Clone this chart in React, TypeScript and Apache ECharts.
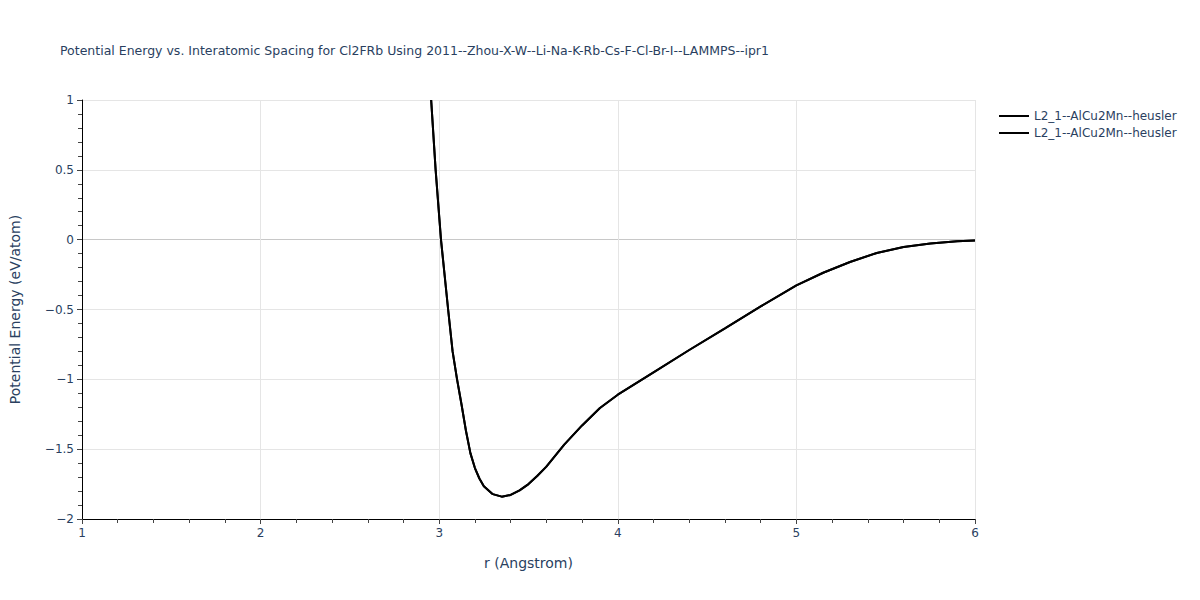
import { useEffect, useRef } from "react";
import * as echarts from "echarts";

// r (Angstrom) and energy (eV/atom)
const rValues = [
  2.955, 2.98, 3.01, 3.05, 3.075, 3.1, 3.125, 3.15, 3.175, 3.2, 3.225, 3.25, 3.3,
  3.35, 3.4, 3.45, 3.5, 3.55, 3.6, 3.7, 3.8, 3.9, 4.0, 4.2, 4.4, 4.6, 4.8, 5.0,
  5.15, 5.3, 5.45, 5.6, 5.75, 5.9, 6.0,
];
const energyValues = [
  1.0, 0.5, 0.0, -0.5, -0.8, -1.0, -1.18, -1.37, -1.53, -1.635, -1.71, -1.765,
  -1.822, -1.84, -1.828, -1.795, -1.75, -1.69, -1.625, -1.467, -1.33, -1.205,
  -1.11, -0.95, -0.79, -0.635, -0.478, -0.327, -0.237, -0.16, -0.095, -0.052,
  -0.027, -0.012, -0.006,
];
const seriesNames = ["L2_1--AlCu2Mn--heusler", "L2_1--AlCu2Mn--heusler "];

const TITLE =
  "Potential Energy vs. Interatomic Spacing for Cl2FRb Using 2011--Zhou-X-W--Li-Na-K-Rb-Cs-F-Cl-Br-I--LAMMPS--ipr1";
const FONT = "'DejaVu Sans', verdana, sans-serif";
const TEXT = "#2a3f5f";

const fmt = (v: number) => (v < 0 ? "\u2212" + String(-v) : String(v));

export default function App() {
  const chartRef = useRef<HTMLDivElement>(null);

  useEffect(() => {
    document.body.style.margin = "0";
    if (!chartRef.current) return;
    const chart = echarts.init(chartRef.current, undefined, { renderer: "svg" });
    const points = rValues.map((r, i) => [r, energyValues[i]]);

    chart.setOption({
      animation: false,
      backgroundColor: "#fff",
      title: {
        text: TITLE,
        left: 55,
        top: 39,
        textStyle: { fontFamily: FONT, fontSize: 12.5, fontWeight: "normal", color: TEXT },
      },
      legend: {
        data: seriesNames,
        orient: "vertical",
        left: 994,
        top: 105,
        itemWidth: 30,
        itemHeight: 2,
        itemGap: 5,
        icon: "rect",
        formatter: (n: string) => n.trim(),
        textStyle: { fontFamily: FONT, fontSize: 12, color: TEXT },
      },
      grid: { left: 80, right: 225, top: 100, bottom: 81 },
      xAxis: {
        type: "value",
        min: 1,
        max: 6,
        interval: 1,
        name: "r (Angstrom)",
        nameLocation: "middle",
        nameGap: 37,
        nameTextStyle: { fontFamily: FONT, fontSize: 14, color: TEXT },
        axisLine: { onZero: false, lineStyle: { color: "#000", width: 1 } },
        axisTick: { show: true, length: 5, lineStyle: { color: "#444" } },
        minorTick: { show: true, splitNumber: 5, length: 4, lineStyle: { color: "#444" } },
        axisLabel: { fontFamily: FONT, fontSize: 12, color: TEXT, margin: 8 },
        splitLine: { show: true, lineStyle: { color: "#e5e5e5", width: 1 } },
      },
      yAxis: {
        type: "value",
        min: -2,
        max: 1,
        interval: 0.5,
        name: "Potential Energy (eV/atom)",
        nameLocation: "middle",
        nameGap: 60,
        nameTextStyle: { fontFamily: FONT, fontSize: 14, color: TEXT },
        axisLine: { show: true, onZero: false, lineStyle: { color: "#000", width: 1 } },
        axisTick: { show: true, length: 5, lineStyle: { color: "#444" } },
        minorTick: { show: true, splitNumber: 5, length: 4, lineStyle: { color: "#444" } },
        axisLabel: { fontFamily: FONT, fontSize: 12, color: TEXT, margin: 8, formatter: fmt },
        splitLine: {
          show: true,
          lineStyle: {
            color: ["#e5e5e5", "#e5e5e5", "#e5e5e5", "#e5e5e5", "#c8c8c8", "#e5e5e5", "#e5e5e5"],
            width: 1,
          },
        },
      },
      series: seriesNames.map((name) => ({
        name,
        type: "line",
        data: points,
        showSymbol: false,
        symbol: "none",
        clip: true,
        lineStyle: { color: "#000", width: 2 },
        itemStyle: { color: "#000" },
      })),
    });

    return () => chart.dispose();
  }, []);

  return <div ref={chartRef} style={{ width: 1200, height: 600 }} />;
}
